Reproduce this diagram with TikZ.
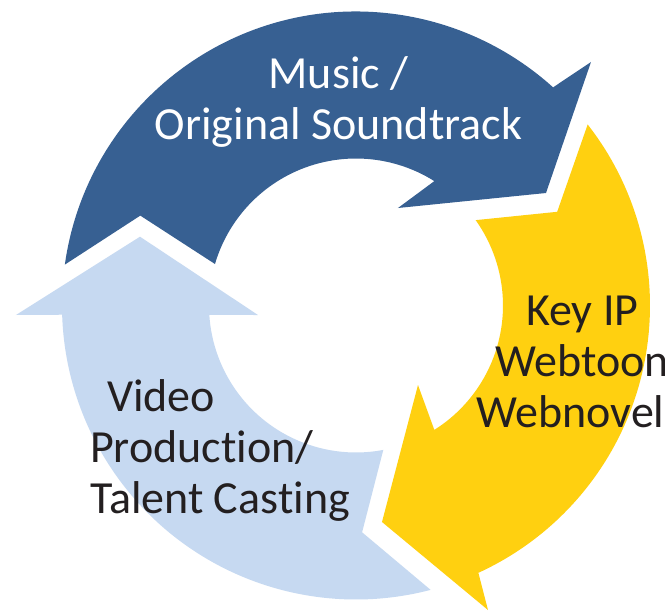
\documentclass[tikz,border=0pt]{standalone}
\usepackage{fontspec}
\setmainfont{Carlito}[Ligatures={NoCommon,NoRare,NoContextual}]
\definecolor{arrowblue}{HTML}{376092}
\definecolor{arrowyellow}{HTML}{FFD010}
\definecolor{arrowlight}{HTML}{C6D9F1}
\definecolor{textdark}{HTML}{231F20}
\tikzset{
  cyclelabel/.style={inner sep=0pt, anchor=base, font=\fontsize{46}{51}\selectfont},
}
\begin{document}
\begin{tikzpicture}[x=1pt,y=1pt]
\useasboundingbox (-356,-305.5) rectangle (309,305.5);
\fill[white] (-356,-305.5) rectangle (309,305.5);
% top arrow (dark blue)
\fill[arrowblue] (172:294) arc[start angle=172, end angle=47.9, radius=294]
  -- (235,243.5) -- (190,112.5) -- (42,97.5)
  -- (57.8:147) arc[start angle=57.8, end angle=163.6, radius=147]
  -- (-215.7,89.9) -- cycle;
% right arrow (yellow)
\fill[arrowyellow] (38:294) arc[start angle=38, end angle=-65.4, radius=294]
  -- (132,-304.5) -- (26,-216.5) -- (62,-79.5)
  -- (-57.8:147) arc[start angle=-57.8, end angle=35.5, radius=147]
  -- (201.2,93.7) -- cycle;
% left arrow (light blue)
\fill[arrowlight] (-75.3:294) arc[start angle=-75.3, end angle=-178.2, radius=294]
  -- (-340,-9.5) -- (-216,68.8) -- (-98,-9.5)
  -- (-176.3:147) arc[start angle=-176.3, end angle=-79.3, radius=147]
  -- (6.1,-226.8) -- cycle;
% labels
\node[cyclelabel, text=white] (music) at (-17.5,216.6)
  {\begin{tabular}[t]{@{}c@{}}Music /\\Original Soundtrack\end{tabular}};
\node[cyclelabel, text=textdark, anchor=base west] (keyip) at (120,-20)
  {\begin{tabular}[t]{@{}l@{}}\hspace{50pt}Key IP\\\hspace{19pt}Webtoon\\Webnovel\end{tabular}};
\node[cyclelabel, text=textdark, anchor=base west] (video) at (-266,-105.5)
  {\begin{tabular}[t]{@{}l@{}}\hspace{17pt}Video\\Production/\\Talent Casting\end{tabular}};
\end{tikzpicture}
\end{document}
